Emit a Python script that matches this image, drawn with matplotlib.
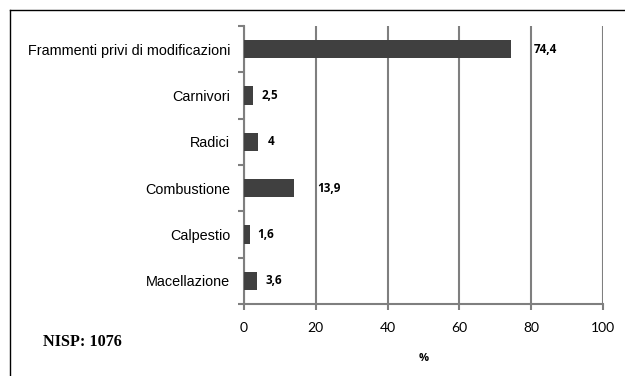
import numpy as np
import matplotlib.pyplot as plt
from matplotlib.lines import Line2D

categorie = ["Macellazione", "Calpestio", "Combustione", "Radici", "Carnivori",
             "Frammenti privi di modificazioni"]
valori = [3.6, 1.6, 13.9, 4, 2.5, 74.4]
etichette = ["3,6", "1,6", "13,9", "4", "2,5", "74,4"]
xticks = [0, 20, 40, 60, 80, 100]

grigio = "#7f7f7f"
font_num = ["Open Sans", "DejaVu Sans"]

fig = plt.figure(figsize=(6.25, 3.76), dpi=100)
ax = fig.add_axes([0.3904, 0.1915, 0.5744, 0.7394])

y = np.arange(len(categorie))
ax.barh(y, valori, height=0.39, color="#404040", zorder=3)

# spostamento delle etichette in pixel
offs = [9, 8, 23, 9, 9, 23]
for yi, v, t, o in zip(y, valori, etichette, offs):
    ax.annotate(t, (v, yi), xytext=(o, 0), textcoords="offset pixels",
                va="center", ha="left", fontsize=8.4, fontweight="bold",
                family=font_num, color="black")

ax.set_xlim(0, 100)
ax.set_ylim(-0.5, len(categorie) - 0.5)
ax.set_xticks(xticks)
ax.set_xticklabels([str(t) for t in xticks], family="Lato", fontsize=10)
ax.xaxis.grid(True, color=grigio, linewidth=1.5, zorder=0)

ax.set_yticks(y)
ax.set_yticklabels(categorie, family="Liberation Sans", fontsize=10.4)
ax.tick_params(axis="y", length=0, pad=10)
ax.set_yticks(np.arange(-0.5, len(categorie)), minor=True)
ax.tick_params(axis="y", which="minor", length=4, width=1.5, color=grigio)
ax.tick_params(axis="x", length=4, width=1.5, color=grigio, pad=9)

for s in ["top", "right"]:
    ax.spines[s].set_visible(False)
for s in ["left", "bottom"]:
    ax.spines[s].set_color(grigio)
    ax.spines[s].set_linewidth(1.5)

ax.set_xlabel("%", family=font_num, fontweight="bold", fontsize=8, labelpad=14)

fig.text(0.069, 1 - 342 / 376, "NISP: 1076", family="Liberation Serif",
         fontweight="bold", fontsize=11.7, va="center", ha="left")

# cornice superiore e sinistra
fig.add_artist(Line2D([10 / 625, 10 / 625], [0, 1 - 10 / 376],
                      transform=fig.transFigure, color="black", linewidth=1))
fig.add_artist(Line2D([10 / 625, 1], [1 - 10 / 376, 1 - 10 / 376],
                      transform=fig.transFigure, color="black", linewidth=1))

fig.savefig("out.png", dpi=100)
